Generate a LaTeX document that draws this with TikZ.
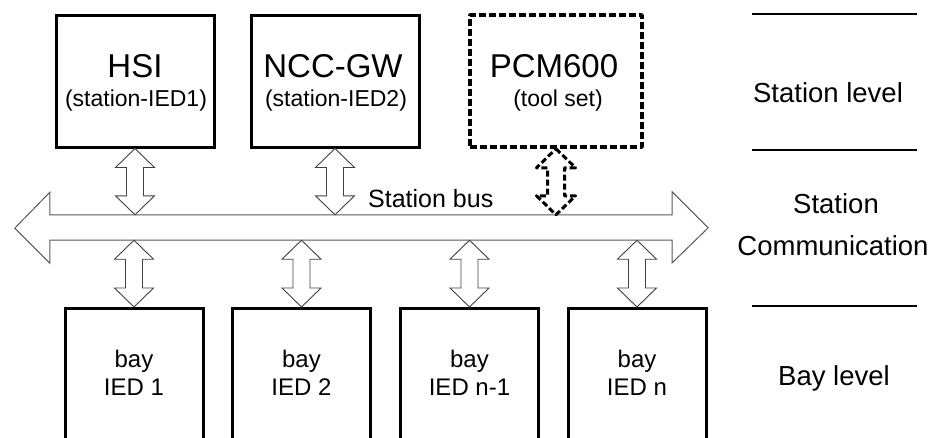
\documentclass[tikz,border=0pt]{standalone}
\usepackage{fontspec}
\setmainfont{Liberation Sans}
\usetikzlibrary{calc}
\tikzset{
  box/.style={draw=black, line width=3pt, rectangle, inner sep=0pt},
  dashbox/.style={draw=black, line width=3.5pt, rectangle, inner sep=0pt, dash pattern=on 7pt off 3pt, line join=round},
  baybox/.style={draw=black, line width=3pt, rectangle, inner sep=0pt, minimum width=138pt, minimum height=160pt, anchor=north},
  levelline/.style={draw=black, line width=2pt},
  busline/.style={draw=black!65, line width=1pt, fill=white, line join=miter},
  dblarr/.style={draw=black!75, line width=0.9pt, fill=white, line join=miter},
  dasharr/.style={draw=black, line width=3pt, dash pattern=on 6pt off 3pt, fill=white, line join=round},
  bigtxt/.style={font=\fontsize{33}{36}\selectfont, anchor=base, inner sep=0pt},
  subtxt/.style={font=\fontsize{23}{26}\selectfont, anchor=base, inner sep=0pt},
  baytxt/.style={font=\fontsize{24}{27}\selectfont, anchor=base, inner sep=0pt},
  lvltxt/.style={font=\fontsize{27.5}{30}\selectfont, anchor=base, inner sep=0pt},
  bustxt/.style={font=\fontsize{25}{28}\selectfont, anchor=base west, inner sep=0pt},
}
\newcommand\dblarrow[3][dblarr]{%
  \path[#1] let \p1=(#2), \p2=(#3) in
    (\x1,\y1) -- (\x1+19.5pt,\y1-19pt) -- (\x1+8.5pt,\y1-19pt) -- (\x1+8.5pt,\y2+19pt)
    -- (\x1+19.5pt,\y2+19pt) -- (\x1,\y2) -- (\x1-19.5pt,\y2+19pt) -- (\x1-8.5pt,\y2+19pt)
    -- (\x1-8.5pt,\y1-19pt) -- (\x1-19.5pt,\y1-19pt) -- cycle;}
\begin{document}
\begin{tikzpicture}[x=1pt,y=-1pt]
  \useasboundingbox (0,0) rectangle (938,437);
  % station level boxes
  \node[box, minimum width=158pt, minimum height=132pt] (hsi) at (135,81) {};
  \node[box, minimum width=168pt, minimum height=132pt] (ncc) at (335,81) {};
  \node[dashbox, minimum width=172pt, minimum height=132pt] (pcm) at (556,81) {};
  \node[bigtxt] (hsiA) at (135,77) {HSI};
  \node[subtxt] (hsiB) at (136,106) {(station-IED1)};
  \node[bigtxt] (nccA) at (333,77) {NCC-GW};
  \node[subtxt] (nccB) at (336,106) {(station-IED2)};
  \node[bigtxt] (pcmA) at (554,77) {PCM600};
  \node[subtxt] (pcmB) at (558,106) {(tool set)};
  % bus
  \node[minimum width=622pt, minimum height=25pt, inner sep=0pt] (bus) at (361,227.5) {};
  \path[busline] (bus.north west) -- (bus.north east) -- ++(0,-23) -- ++(36,36) -- ++(-36,35)
    -- (bus.south east) -- (bus.south west) -- ++(0,23) -- ++(-35,-35) -- ++(35,-36) -- cycle;
  \node[bustxt] (bustext) at (368,207) {Station bus};
  % bay boxes
  \node[baybox] (bay1) at (134,307) {};
  \node[baybox] (bay2) at (301.5,307) {};
  \node[baybox] (bay3) at (469.5,307) {};
  \node[baybox] (bay4) at (637,307) {};
  \node[baytxt] (b1a) at (134,367) {bay};
  \node[baytxt] (b1b) at (134,395) {IED 1};
  \node[baytxt] (b2a) at (301.5,367) {bay};
  \node[baytxt] (b2b) at (301.5,395) {IED 2};
  \node[baytxt] (b3a) at (469.5,367) {bay};
  \node[baytxt] (b3b) at (469.5,395) {IED n-1};
  \node[baytxt] (b4a) at (637,367) {bay};
  \node[baytxt] (b4b) at (637,395) {IED n};
  % double arrows
  \dblarrow{hsi.south}{bus.north -| hsi.south}
  \dblarrow{ncc.south}{bus.north -| ncc.south}
  \dblarrow[dasharr]{pcm.south}{bus.north -| pcm.south}
  \dblarrow{bus.south -| bay1.north}{bay1.north}
  \dblarrow{bus.south -| bay2.north}{bay2.north}
  \dblarrow{bus.south -| bay3.north}{bay3.north}
  \dblarrow{bus.south -| bay4.north}{bay4.north}
  % level column
  \coordinate (l1a) at (752,14);  \coordinate (l1b) at (917,14);
  \coordinate (l2a) at (752,150); \coordinate (l2b) at (917,150);
  \coordinate (l3a) at (752,306); \coordinate (l3b) at (917,306);
  \draw[levelline] (l1a) -- (l1b);
  \draw[levelline] (l2a) -- (l2b);
  \draw[levelline] (l3a) -- (l3b);
  \node[lvltxt] (lvl1) at (828,102) {Station level};
  \node[lvltxt] (lvl2a) at (836,213) {Station};
  \node[lvltxt] (lvl2b) at (833,255) {Communication};
  \node[lvltxt] (lvl3) at (834,385) {Bay level};
\end{tikzpicture}
\end{document}
